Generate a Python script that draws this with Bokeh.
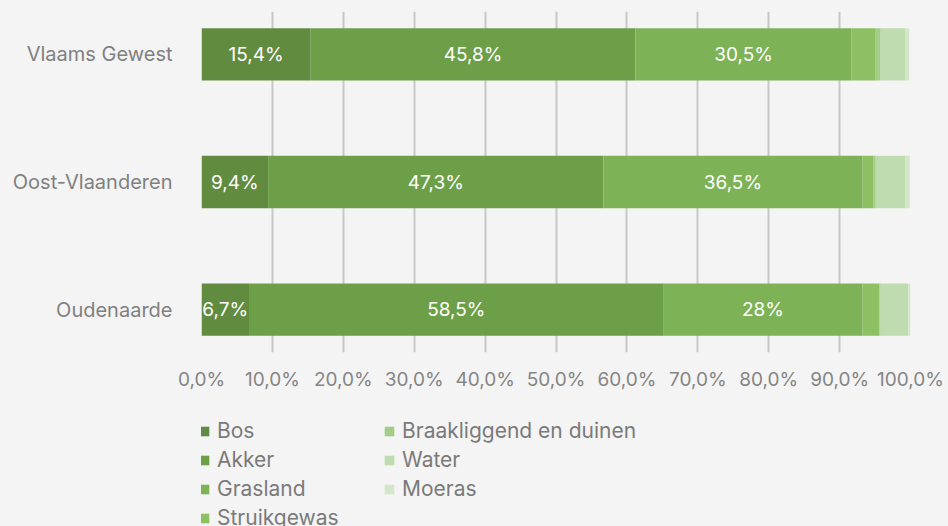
from bokeh.plotting import figure
from bokeh.layouts import column
from bokeh.models import ColumnDataSource, Range1d, FixedTicker, Legend, LegendItem
from bokeh.core.properties import value
from bokeh.embed import file_html
from bokeh.resources import INLINE

# ---- data ----
regions = ["Oudenaarde", "Oost-Vlaanderen", "Vlaams Gewest"]
series = ["Bos", "Akker", "Grasland", "Struikgewas",
          "Braakliggend en duinen", "Water", "Moeras"]
bos = [6.7, 9.4, 15.4]
akker = [58.5, 47.3, 45.8]
grasland = [28.0, 36.5, 30.5]
struikgewas = [2.4, 1.6, 3.4]
braakliggend = [0.2, 0.3, 0.7]
water = [3.9, 4.2, 3.5]
moeras = [0.3, 0.6, 0.5]
x_ticks = [0, 10, 20, 30, 40, 50, 60, 70, 80, 90, 100]
x_tick_labels = ["0,0%", "10,0%", "20,0%", "30,0%", "40,0%", "50,0%",
                 "60,0%", "70,0%", "80,0%", "90,0%", "100,0%"]
colors = ["#618b3f", "#6c9f48", "#7db356", "#8cc062",
          "#a3cd87", "#bedcb0", "#d2e7c7"]

FONT = "Inter"
BG = "#f4f4f4"

values = [bos, akker, grasland, struikgewas, braakliggend, water, moeras]
y_pos = list(range(len(regions)))
data = {"y": y_pos}
for name, vals in zip(series, values):
    data[name] = vals
source = ColumnDataSource(data)

p = figure(width=948, height=400, output_backend="svg", toolbar_location=None,
           x_range=Range1d(0, 100), y_range=Range1d(-0.337, 2.337),
           min_border_left=201, min_border_right=38, min_border_top=11,
           min_border_bottom=48)
p.background_fill_color = BG
p.border_fill_color = BG
p.outline_line_color = None

renderers = p.hbar_stack(series, y="y", height=0.41, color=colors,
                         line_color=None, source=source)

# labels inside the first three segments
def fmt(v):
    s = f"{v:.1f}".replace(".", ",")
    if s.endswith(",0"):
        s = s[:-2]
    return s + "%"

lx, ly, lt = [], [], []
for i in range(len(regions)):
    left = 0.0
    for k in range(3):
        v = values[k][i]
        lx.append(left + v / 2)
        ly.append(y_pos[i])
        lt.append(fmt(v))
        left += v
p.text(x=lx, y=ly, text=lt, text_align="center", text_baseline="middle",
       text_color="white", text_font=value(FONT), text_font_size="19px")

# axes
p.xaxis.ticker = FixedTicker(ticks=x_ticks)
p.xaxis.major_label_overrides = {t: l for t, l in zip(x_ticks, x_tick_labels)}
p.xaxis.axis_line_color = None
p.xaxis.major_tick_line_color = None
p.xaxis.major_tick_out = 0
p.xaxis.major_tick_in = 0
p.xaxis.minor_tick_line_color = None
p.xaxis.major_label_standoff = 15
p.xaxis.major_label_text_font = FONT
p.xaxis.major_label_text_font_size = "19px"
p.xaxis.major_label_text_color = "#858585"

p.yaxis.ticker = FixedTicker(ticks=y_pos)
p.yaxis.major_label_overrides = {y: r for y, r in zip(y_pos, regions)}
p.yaxis.axis_line_color = None
p.yaxis.major_tick_line_color = None
p.yaxis.major_tick_out = 0
p.yaxis.major_tick_in = 0
p.yaxis.minor_tick_line_color = None
p.yaxis.major_label_standoff = 29
p.yaxis.major_label_text_font = FONT
p.yaxis.major_label_text_font_size = "20px"
p.yaxis.major_label_text_color = "#808080"

p.xgrid.grid_line_color = "#c8c8c8"
p.xgrid.grid_line_width = 2
p.ygrid.grid_line_color = None

# ---- legend strip (two columns) ----
q = figure(width=948, height=126, output_backend="svg", toolbar_location=None,
           x_range=Range1d(0, 1), y_range=Range1d(0, 1),
           min_border_left=0, min_border_right=0, min_border_top=0,
           min_border_bottom=0, x_axis_location=None, y_axis_location=None)
q.background_fill_color = BG
q.border_fill_color = BG
q.outline_line_color = None
q.grid.grid_line_color = None

# proxy renderers (outside the visible range) used only for legend swatches
leg_r = [q.hbar(y=[-5], left=[0], right=[1], height=0.5, color=c, line_color=None)
         for c in colors]

def make_legend(idx, loc):
    items = [LegendItem(label=series[i], renderers=[leg_r[i]]) for i in idx]
    lg = Legend(items=items, location=loc, orientation="vertical",
                padding=0, margin=0, spacing=4,
                glyph_width=12, glyph_height=12, label_height=22,
                label_standoff=7,
                label_text_font=FONT, label_text_font_size="21px",
                label_text_color="#7a7a7a",
                border_line_color=None, background_fill_alpha=0)
    q.add_layout(lg, "center")

make_legend([0, 1, 2, 3], (-3, -4))
make_legend([4, 5, 6], (182, 25))

layout = column(p, q, spacing=0)
html = file_html(layout, INLINE)
html = html.replace("<head>", "<head><style>body{background:%s;}</style>" % BG, 1)
open("out.html", "w").write(html)
